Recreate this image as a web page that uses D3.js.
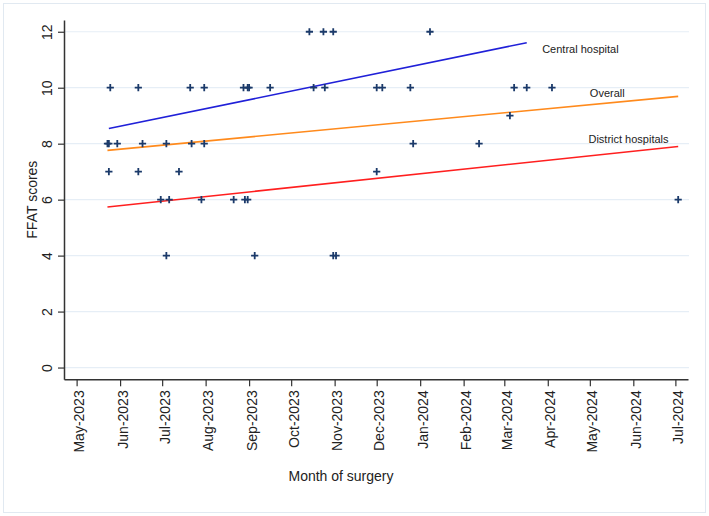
<!DOCTYPE html>
<html><head><meta charset="utf-8">
<script src="https://cdn.jsdelivr.net/npm/d3@7"></script>
<style>
html,body{margin:0;padding:0;background:#fff;}
svg{display:block;font-family:Arial,"Liberation Sans",sans-serif;}
</style></head>
<body><svg id="c" width="709" height="516"></svg>
<script>
// ---- data ----
const pointDates = [
 "2023-10-14","2023-10-24","2023-10-31","2024-01-08",
 "2023-05-25","2023-06-14","2023-07-21","2023-07-31","2023-08-28","2023-08-31","2023-09-01","2023-09-16",
 "2023-10-17","2023-10-25","2023-12-01","2023-12-05","2023-12-25","2024-03-08","2024-03-17","2024-04-04",
 "2024-03-05",
 "2023-05-23","2023-05-24","2023-05-30","2023-06-17","2023-07-04","2023-07-22","2023-07-31","2023-12-27","2024-02-12",
 "2023-05-24","2023-06-14","2023-07-13","2023-12-01",
 "2023-06-30","2023-07-06","2023-07-29","2023-08-21","2023-08-29","2023-08-31","2024-07-03",
 "2023-07-04","2023-09-05","2023-10-31","2023-11-02"
];
const pointScores = [
 12,12,12,12,
 10,10,10,10,10,10,10,10,
 10,10,10,10,10,10,10,10,
 9,
 8,8,8,8,8,8,8,8,8,
 7,7,7,7,
 6,6,6,6,6,6,6,
 4,4,4,4
];
const fitNames = ["Central hospital","Overall","District hospitals"];
const fitColors = ["#2020d8","#ff8a1c","#ff1f1f"];
const fitStartDates = ["2023-05-24","2023-05-23","2023-05-23"];
const fitEndDates = ["2024-03-17","2024-07-03","2024-07-03"];
const fitStartValues = [8.54, 7.76, 5.74];
const fitEndValues = [11.61, 9.69, 7.90];
const labelDates = ["2024-03-28","2024-05-01","2024-04-30"];
const labelValues = [11.25, 9.66, 8.04];
const yTicks = [0,2,4,6,8,10,12];
const xTickStart = "2023-05-01", xTickEnd = "2024-07-01";
const xTitle = "Month of surgery", yTitle = "FFAT scores";

// ---- drawing ----
const parse = d3.timeParse("%Y-%m-%d");
const svg = d3.select("#c");
svg.append("rect").attr("x",3.5).attr("y",3.5).attr("width",702).attr("height",509)
  .attr("fill","#fff").attr("stroke","#e1e9f1").attr("stroke-width",1);

const L=64, R=688, T=20, B=379.3;
const x = d3.scaleTime().domain([parse("2023-04-22"), parse("2024-07-10")]).range([L,R]);
const y = d3.scaleLinear().domain([-0.42,12.42]).range([B,T]);

// gridlines
svg.append("g").selectAll("line").data(yTicks).join("line")
  .attr("x1",L).attr("x2",R+1).attr("y1",d=>y(d)).attr("y2",d=>y(d))
  .attr("stroke","#e6eef6").attr("stroke-width",1.2);

// axes
const months = d3.timeMonth.range(parse(xTickStart), d3.timeDay.offset(parse(xTickEnd),1));
const fmt = d3.timeFormat("%b-%Y");
const gx = svg.append("g").attr("transform",`translate(0,${B})`)
  .call(d3.axisBottom(x).tickValues(months).tickFormat(fmt).tickSize(7).tickSizeOuter(0));
gx.select(".domain").attr("stroke","#333").attr("stroke-width",1.5);
gx.selectAll(".tick line").attr("stroke","#333").attr("stroke-width",1.2);
gx.selectAll(".tick text").attr("font-size",14).attr("fill","#222")
  .attr("text-anchor","end").attr("x",0).attr("y",0).attr("dy",0)
  .attr("transform","translate(7,11) rotate(-90)");

const gy = svg.append("g").attr("transform",`translate(${L},0)`)
  .call(d3.axisLeft(y).tickValues(yTicks).tickSize(6).tickSizeOuter(0));
gy.select(".domain").attr("stroke","#333").attr("stroke-width",1.5);
gy.selectAll(".tick line").attr("stroke","#333").attr("stroke-width",1.2);
gy.selectAll(".tick text").attr("font-size",14).attr("fill","#222")
  .attr("text-anchor","middle").attr("x",0).attr("y",0).attr("dy",0)
  .attr("transform","translate(-12,0) rotate(-90)");

// titles
svg.append("text").attr("x",341).attr("y",481).attr("text-anchor","middle")
  .attr("font-size",14).attr("fill","#222").text(xTitle);
svg.append("text").attr("transform",`translate(37,${(T+B)/2}) rotate(-90)`).attr("text-anchor","middle")
  .attr("font-size",14).attr("fill","#222").text(yTitle);

// fit lines
const fits = fitNames.map((n,i)=>({n, c:fitColors[i],
  x1:parse(fitStartDates[i]), x2:parse(fitEndDates[i]), y1:fitStartValues[i], y2:fitEndValues[i],
  lx:parse(labelDates[i]), ly:labelValues[i]}));
svg.append("g").selectAll("line").data(fits).join("line")
  .attr("x1",d=>x(d.x1)).attr("x2",d=>x(d.x2)).attr("y1",d=>y(d.y1)).attr("y2",d=>y(d.y2))
  .attr("stroke",d=>d.c).attr("stroke-width",1.6);

// points
const pts = pointDates.map((d,i)=>({x:parse(d), y:pointScores[i]}));
const s = 3.6;
svg.append("g").selectAll("path").data(pts).join("path")
  .attr("d",d=>{const cx=x(d.x), cy=y(d.y);
    return `M${cx-s},${cy}H${cx+s}M${cx},${cy-s}V${cy+s}`;})
  .attr("stroke","#1b3a6a").attr("stroke-width",1.8).attr("fill","none");

// labels
svg.append("g").selectAll("text").data(fits).join("text")
  .attr("x",d=>x(d.lx)).attr("y",d=>y(d.ly)).attr("font-size",11).attr("fill","#222").text(d=>d.n);
</script></body></html>
